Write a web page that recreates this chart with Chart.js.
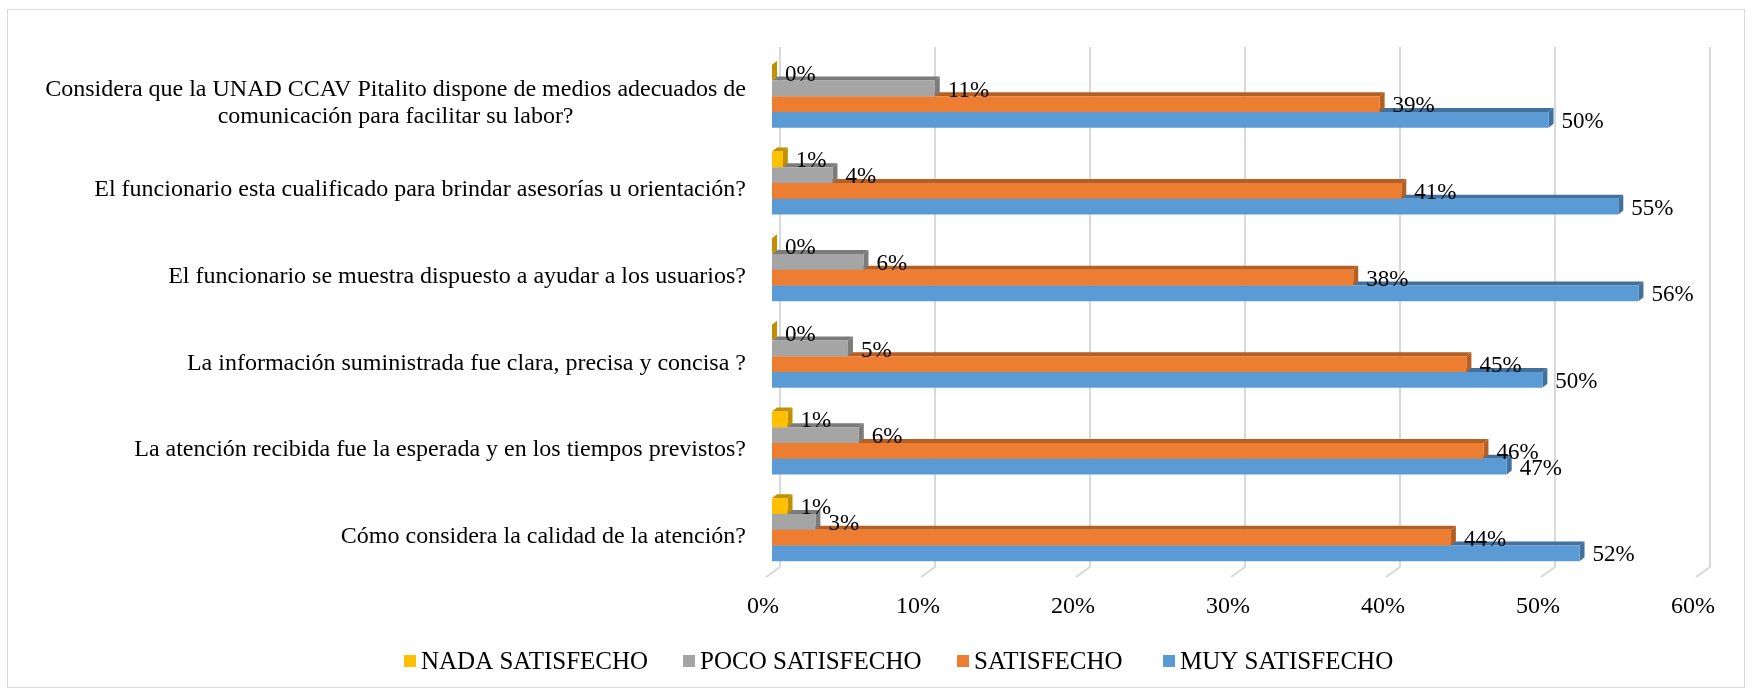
<!DOCTYPE html>
<html>
<head>
<meta charset="utf-8">
<script src="https://cdn.jsdelivr.net/npm/chart.js@4/dist/chart.umd.min.js"></script>
<style>
  html, body { margin: 0; padding: 0; background: #fff; }
  #wrap { width: 1753px; height: 692px; }
</style>
</head>
<body>
<div id="wrap"><canvas id="c" width="1753" height="692"></canvas></div>
<script>
// Survey questions (top to bottom)
const categories = [
  ['Considera que la UNAD CCAV Pitalito dispone de medios adecuados de', 'comunicación para facilitar su labor?'],
  'El funcionario esta cualificado para brindar asesorías u orientación?',
  'El funcionario se muestra dispuesto a ayudar a los usuarios?',
  'La información suministrada fue clara, precisa y concisa ?',
  'La atención recibida fue la esperada y en los tiempos previstos?',
  'Cómo considera la calidad de la atención?'
];

const seriesNames = ['NADA SATISFECHO', 'POCO SATISFECHO', 'SATISFECHO', 'MUY SATISFECHO'];

// Percent of respondents per answer
const nadaSatisfecho = [0, 0.7, 0, 0, 1.0, 1.0];
const pocoSatisfecho = [10.5, 3.9, 5.9, 4.9, 5.6, 2.8];
const satisfecho     = [39.2, 40.6, 37.5, 44.8, 45.9, 43.8];
const muySatisfecho  = [50.1, 54.6, 55.9, 49.7, 47.4, 52.1];

const xTicks = [0, 10, 20, 30, 40, 50, 60];

const frontColors = ['#FFC000', '#A5A5A5', '#ED7D31', '#5B9BD5'];
const sideColors  = ['#BF9000', '#7B7B7B', '#B45F24', '#41719C'];

const SERIF = '"Liberation Serif", "Times New Roman", serif';
const DX = 5, DY = 4;

// Back-wall gridlines with a slanted foot on the floor, 3D bar faces, labels, legend
const wallGrid = {
  id: 'wallGrid',
  beforeDraw(chart) {
    const { ctx } = chart;
    ctx.save();
    ctx.strokeStyle = '#D9D9D9';
    ctx.lineWidth = 1;
    ctx.strokeRect(7.5, 9.5, 1737, 678);
    ctx.restore();
  },
  beforeDatasetsDraw(chart) {
    const { ctx, chartArea, scales } = chart;
    ctx.save();
    ctx.strokeStyle = '#D9D9D9';
    ctx.lineWidth = 2;
    xTicks.forEach(v => {
      const x = scales.x.getPixelForValue(v) + 8;
      ctx.beginPath();
      ctx.moveTo(x, chartArea.top - 6);
      ctx.lineTo(x, chartArea.bottom - 6);
      ctx.lineTo(x - 14, chartArea.bottom + 4);
      ctx.stroke();
    });
    // top and end faces, lower bars first so upper bars sit over them
    for (let d = chart.data.datasets.length - 1; d >= 0; d--) {
      const meta = chart.getDatasetMeta(d);
      meta.data.forEach(bar => {
        const { x, y, base, height } = bar.getProps(['x', 'y', 'base', 'height'], true);
        const top = y - height / 2, bot = y + height / 2;
        ctx.fillStyle = sideColors[d];
        ctx.beginPath();
        ctx.moveTo(base, top);
        ctx.lineTo(x, top);
        ctx.lineTo(x + DX, top - DY);
        ctx.lineTo(base + DX, top - DY);
        ctx.closePath();
        ctx.fill();
        ctx.beginPath();
        ctx.moveTo(x, top);
        ctx.lineTo(x + DX, top - DY);
        ctx.lineTo(x + DX, bot - DY);
        ctx.lineTo(x, bot);
        ctx.closePath();
        ctx.fill();
      });
    }
    ctx.restore();
  },
  afterDatasetsDraw(chart) {
    const { ctx, scales } = chart;
    ctx.save();
    // value labels
    ctx.font = '23px ' + SERIF;
    ctx.fillStyle = '#000';
    ctx.textAlign = 'left';
    ctx.textBaseline = 'middle';
    chart.data.datasets.forEach((ds, d) => {
      chart.getDatasetMeta(d).data.forEach((bar, i) => {
        const { x, y } = bar.getProps(['x', 'y'], true);
        ctx.fillText(Math.round(ds.data[i]) + '%', x + 13, y + 2);
      });
    });
    // category labels: right-aligned block, lines centred within it
    ctx.font = '24px ' + SERIF;
    const right = scales.x.getPixelForValue(0) - 26;
    categories.forEach((lab, i) => {
      const lines = Array.isArray(lab) ? lab : [lab];
      const w = Math.max(...lines.map(l => ctx.measureText(l).width));
      const cx = right - w / 2;
      const cy = scales.y.getPixelForValue(i) + 7;
      const lh = 27;
      ctx.textAlign = 'center';
      lines.forEach((l, k) => {
        ctx.fillText(l, cx, cy + (k - (lines.length - 1) / 2) * lh);
      });
    });
    // legend
    ctx.font = '25px ' + SERIF;
    ctx.textAlign = 'left';
    const legendX = [404, 683, 957, 1163];
    const ly = 661;
    seriesNames.forEach((n, k) => {
      ctx.fillStyle = frontColors[k];
      ctx.fillRect(legendX[k], ly - 6, 12, 12);
      ctx.fillStyle = '#000';
      ctx.fillText(n, legendX[k] + 17, ly + 1);
    });
    ctx.restore();
  }
};

const datasets = [nadaSatisfecho, pocoSatisfecho, satisfecho, muySatisfecho].map((vals, k) => ({
  label: seriesNames[k],
  data: vals,
  backgroundColor: frontColors[k],
  borderWidth: 0,
  categoryPercentage: 0.727,
  barPercentage: 1.0
}));

new Chart(document.getElementById('c'), {
  type: 'bar',
  data: { labels: categories, datasets },
  options: {
    indexAxis: 'y',
    responsive: false,
    animation: false,
    devicePixelRatio: 1,
    layout: { padding: { left: 772, right: 51, top: 53, bottom: 79 } },
    plugins: { legend: { display: false }, tooltip: { enabled: false } },
    scales: {
      y: { display: false },
      x: {
        min: 0, max: 60,
        grid: { display: false, drawTicks: false },
        border: { display: false },
        afterFit: s => { s.height = 40; },
        ticks: {
          stepSize: 10,
          padding: 19,
          labelOffset: -9,
          color: '#000',
          font: { family: SERIF, size: 24 },
          callback: v => v + '%'
        }
      }
    }
  },
  plugins: [wallGrid]
});
</script>
</body>
</html>
